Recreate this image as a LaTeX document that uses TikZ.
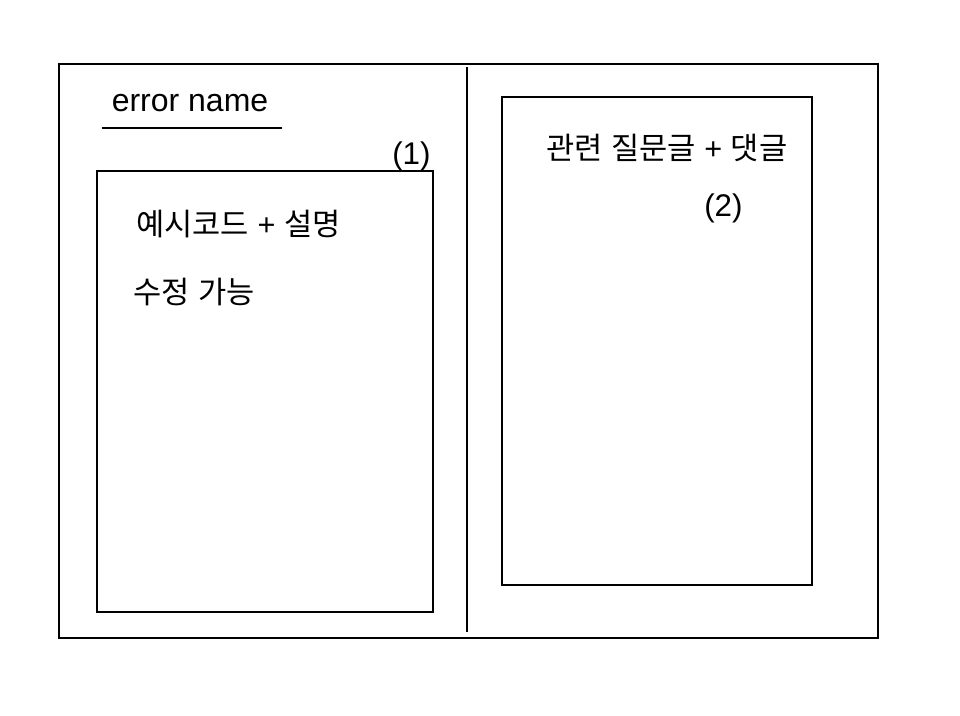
\documentclass[tikz,border=0pt]{standalone}
\usepackage{fontspec}
\setmainfont{Liberation Sans}
\newfontfamily\kr{Noto Sans CJK KR}
\tikzset{
  frame/.style={draw=black, line width=1.5pt},
  lat/.style={inner sep=0pt, anchor=base west, font=\fontsize{23.5pt}{27pt}\selectfont},
  kor/.style={inner sep=0pt, anchor=base west, font=\fontsize{23pt}{27pt}\selectfont},
}
\begin{document}
\begin{tikzpicture}[x=0.75pt,y=-0.75pt]
\useasboundingbox (0,0) rectangle (960,715);
\fill[white] (0,0) rectangle (960,715);
% outer frame
\coordinate (o1) at (59,63.5);
\coordinate (o2) at (877.7,637.5);
\draw[frame] (o1) rectangle (o2);
% divider
\coordinate (d1) at (467,67);
\coordinate (d2) at (467,632);
\draw[frame] (d1) -- (d2);
% title
\node[lat, font=\fontsize{24pt}{27pt}\selectfont] (title) at (111.5,111) {error name};
\coordinate (u1) at (101.7,128.3);
\coordinate (u2) at (282,128.3);
\draw[frame] (u1) -- (u2);
% left box
\coordinate (l1) at (96.7,171);
\coordinate (l2) at (433,612);
\draw[frame] (l1) rectangle (l2);
\node[lat] (n1) at (392,164) {(1)};
\node[kor] (ex) at (136,235) {{\kr 예시코드} + {\kr 설명}};
\node[kor] (ed) at (133,303) {{\kr 수정} {\kr 가능}};
% right box
\coordinate (r1) at (502,96.5);
\coordinate (r2) at (812,585);
\draw[frame] (r1) rectangle (r2);
\node[kor] (rel) at (546,159) {{\kr 관련} {\kr 질문글} + {\kr 댓글}};
\node[lat] (n2) at (704,216) {(2)};
\end{tikzpicture}
\end{document}
